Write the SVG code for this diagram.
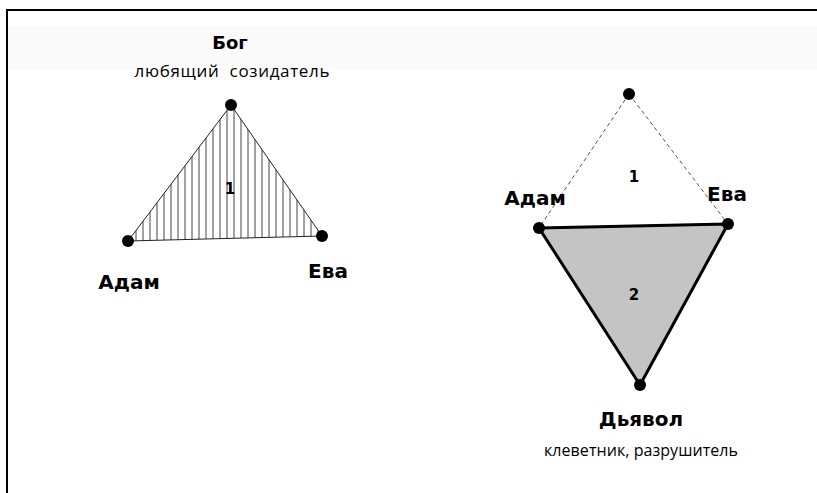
<svg xmlns="http://www.w3.org/2000/svg" width="817" height="493" viewBox="0 0 817 493">
<defs>
<pattern id="hatch" patternUnits="userSpaceOnUse" x="0" y="0" width="7" height="10">
<line x1="3" y1="0" x2="3" y2="10" stroke="#444" stroke-width="1"/>
</pattern>
</defs>
<style>
.dot{fill:#000}
.lb{font-family:"DejaVu Sans",Verdana,sans-serif;font-weight:bold;font-size:20px;fill:#000;text-anchor:middle}
.num{font-family:"DejaVu Sans",Verdana,sans-serif;font-weight:bold;font-size:15px;fill:#000;text-anchor:middle}
.sub{font-family:"Open Sans","DejaVu Sans Condensed",sans-serif;font-size:16px;fill:#000;text-anchor:middle}
</style>
<rect width="817" height="493" fill="#fff"/>
<rect x="8" y="26" width="809" height="44" fill="#fafafa"/>
<line x1="7" y1="10" x2="817" y2="10" stroke="#000" stroke-width="2"/>
<line x1="7" y1="9" x2="7" y2="493" stroke="#000" stroke-width="2"/>
<g id="connectors">
<polygon points="231,105 128,241 322,236" fill="url(#hatch)" stroke="#222" stroke-width="1"/>
<line x1="629" y1="94" x2="539" y2="228" stroke="#555" stroke-width="1" stroke-dasharray="4,3"/>
<line x1="629" y1="94" x2="728" y2="224" stroke="#555" stroke-width="1" stroke-dasharray="4,3"/>
<polygon points="539,228 728,224 640,385" fill="#c4c4c4" stroke="#000" stroke-width="3" stroke-linejoin="round"/>
<line x1="539" y1="228" x2="728" y2="224" stroke="#000" stroke-width="1.5"/>
</g>
<g id="god"><circle class="dot" cx="231" cy="105" r="6"/><text class="lb" style="font-size:18px" x="230" y="49">Бог</text><text class="sub" style="font-size:17px" x="232" y="77" xml:space="preserve" textLength="195">любящий  созидатель</text></g>
<g id="adam1"><circle class="dot" cx="128" cy="241" r="6"/><text class="lb" x="129" y="289">Адам</text></g>
<g id="eva1"><circle class="dot" cx="322" cy="236" r="6"/><text class="lb" x="328" y="278">Ева</text></g>
<g id="label1a"><text class="num" x="230" y="194">1</text></g>
<g id="top2"><circle class="dot" cx="629" cy="94" r="6"/></g>
<g id="adam2"><circle class="dot" cx="539" cy="228" r="6"/><text class="lb" x="535" y="205">Адам</text></g>
<g id="eva2"><circle class="dot" cx="728" cy="224" r="6"/><text class="lb" x="727" y="201">Ева</text></g>
<g id="label1b"><text class="num" x="634" y="182">1</text></g>
<g id="label2"><text class="num" x="634" y="300">2</text></g>
<g id="devil"><circle class="dot" cx="640" cy="385" r="6"/><text class="lb" x="641" y="426">Дьявол</text><text class="sub" x="641" y="456" textLength="194">клеветник, разрушитель</text></g>
</svg>
